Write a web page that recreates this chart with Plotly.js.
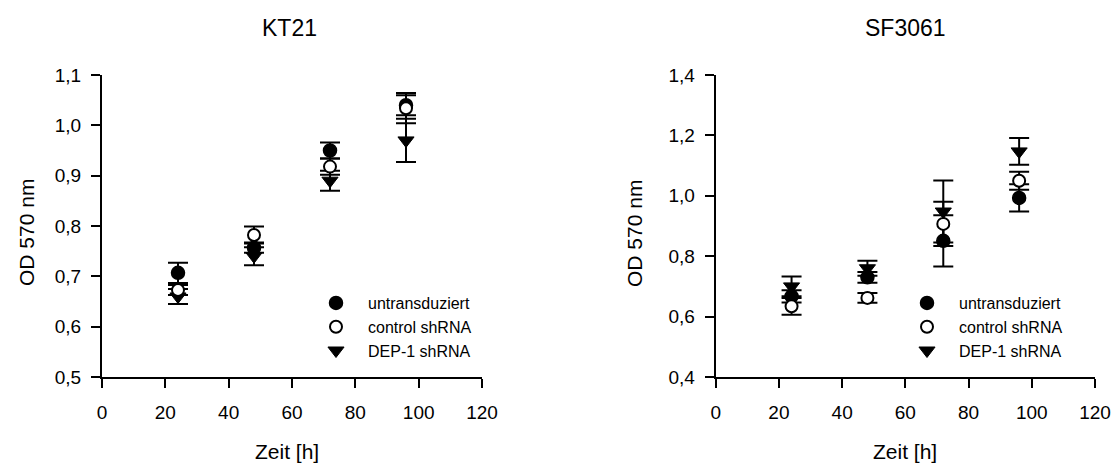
<!DOCTYPE html>
<html><head><meta charset="utf-8">
<script src="https://cdn.plot.ly/plotly-3.0.1.min.js"></script>
<style>html,body{margin:0;padding:0;background:#fff}#plot{width:1115px;height:464px}</style>
</head><body><div id="plot"></div>
<script>
// Time points (h)
const timeH = [24, 48, 72, 96];
const seriesNames = ['untransduziert', 'control shRNA', 'DEP-1 shRNA'];

// KT21
const kt21Untrans = [0.707, 0.757, 0.950, 1.040];
const kt21UntransErr = [0.020, 0.010, 0.016, 0.020];
const kt21Control = [0.673, 0.782, 0.918, 1.034];
const kt21ControlErr = [0.010, 0.017, 0.016, 0.030];
const kt21Dep1 = [0.660, 0.740, 0.890, 0.970];
const kt21Dep1Err = [0.015, 0.018, 0.020, 0.043];

// SF3061
const sfUntrans = [0.667, 0.730, 0.851, 0.993];
const sfUntransErr = [0.020, 0.018, 0.085, 0.045];
const sfControl = [0.634, 0.662, 0.907, 1.050];
const sfControlErr = [0.028, 0.016, 0.073, 0.030];
const sfDep1 = [0.700, 0.760, 0.948, 1.147];
const sfDep1Err = [0.033, 0.025, 0.103, 0.044];

const W = 1115, H = 464;
const px = v => v / W, py = v => 1 - v / H;

const markerStyles = [
  {symbol: 'circle', size: 13, color: '#000', line: {color: '#000', width: 1.5}},
  {symbol: 'circle', size: 12, color: '#fff', line: {color: '#000', width: 2}},
  {symbol: 'triangle-down', size: 14, color: '#000', line: {color: '#000', width: 1}}
];

function dataTraces(vals, errs, xa, ya) {
  return vals.map((v, i) => ({
    type: 'scatter', mode: 'markers', x: timeH, y: v,
    xaxis: xa, yaxis: ya, showlegend: false, hoverinfo: 'skip',
    marker: markerStyles[i],
    error_y: {type: 'data', array: errs[i], visible: true, color: '#000', thickness: 2, width: 10}
  }));
}
function legendTraces(legendId, xa, ya) {
  return seriesNames.map((n, i) => ({
    type: 'scatter', mode: 'markers', x: [null], y: [null], name: n,
    xaxis: xa, yaxis: ya, legend: legendId, showlegend: true,
    marker: markerStyles[i]
  }));
}

// draw order: filled, triangle, open
const order = [0, 2, 1];
const kt = dataTraces([kt21Untrans, kt21Control, kt21Dep1], [kt21UntransErr, kt21ControlErr, kt21Dep1Err], 'x', 'y');
const sf = dataTraces([sfUntrans, sfControl, sfDep1], [sfUntransErr, sfControlErr, sfDep1Err], 'x2', 'y2');
const traces = [
  ...order.map(i => kt[i]), ...order.map(i => sf[i]),
  ...legendTraces('legend', 'x', 'y'), ...legendTraces('legend2', 'x2', 'y2')
];

const font = 'Liberation Sans, Arial, sans-serif';
const axisCommon = {
  showline: true, linecolor: '#000', linewidth: 2, mirror: false,
  ticks: 'outside', ticklen: 9, tickwidth: 2, tickcolor: '#000',
  showgrid: false, zeroline: false, fixedrange: true,
  tickfont: {family: font, size: 19, color: '#000'}
};
const yDomain = [py(377), py(75)];
const layout = {
  width: W, height: H, margin: {l: 0, r: 0, t: 0, b: 0},
  paper_bgcolor: '#fff', plot_bgcolor: '#fff',
  separators: ',.', showlegend: true,
  font: {family: font, color: '#000'},
  xaxis: Object.assign({}, axisCommon, {domain: [px(102), px(482)], range: [0, 120], dtick: 20, tick0: 0, anchor: 'y', ticklabelstandoff: 8}),
  yaxis: Object.assign({}, axisCommon, {domain: yDomain, range: [0.5, 1.1], dtick: 0.1, tick0: 0.5, tickformat: '.1f', anchor: 'x', ticklabelstandoff: 6}),
  xaxis2: Object.assign({}, axisCommon, {domain: [px(715.7), px(1095)], range: [0, 120], dtick: 20, tick0: 0, anchor: 'y2', ticklabelstandoff: 8}),
  yaxis2: Object.assign({}, axisCommon, {domain: yDomain, range: [0.4, 1.4], dtick: 0.2, tick0: 0.4, tickformat: '.1f', anchor: 'x2', ticklabelstandoff: 6}),
  legend: {x: px(304), y: py(286), xanchor: 'left', yanchor: 'top', itemwidth: 54, bgcolor: 'rgba(0,0,0,0)', font: {family: font, size: 16, color: '#000'}, itemclick: false},
  legend2: {x: px(895), y: py(286), xanchor: 'left', yanchor: 'top', itemwidth: 54, bgcolor: 'rgba(0,0,0,0)', font: {family: font, size: 16, color: '#000'}, itemclick: false},
  annotations: [
    {text: 'KT21', x: px(290), y: py(28), xref: 'paper', yref: 'paper', showarrow: false, xanchor: 'center', yanchor: 'middle', font: {family: font, size: 23, color: '#000'}},
    {text: 'SF3061', x: px(905), y: py(28), xref: 'paper', yref: 'paper', showarrow: false, xanchor: 'center', yanchor: 'middle', font: {family: font, size: 23, color: '#000'}},
    {text: 'Zeit [h]', x: px(287), y: py(451), xref: 'paper', yref: 'paper', showarrow: false, xanchor: 'center', yanchor: 'middle', font: {family: font, size: 21, color: '#000'}},
    {text: 'Zeit [h]', x: px(905), y: py(451), xref: 'paper', yref: 'paper', showarrow: false, xanchor: 'center', yanchor: 'middle', font: {family: font, size: 21, color: '#000'}},
    {text: 'OD 570 nm', x: px(26), y: py(233), xref: 'paper', yref: 'paper', showarrow: false, textangle: -90, xanchor: 'center', yanchor: 'middle', font: {family: font, size: 21, color: '#000'}},
    {text: 'OD 570 nm', x: px(634), y: py(234), xref: 'paper', yref: 'paper', showarrow: false, textangle: -90, xanchor: 'center', yanchor: 'middle', font: {family: font, size: 21, color: '#000'}}
  ]
};
Plotly.newPlot('plot', traces, layout, {staticPlot: true, displayModeBar: false});
</script></body></html>
